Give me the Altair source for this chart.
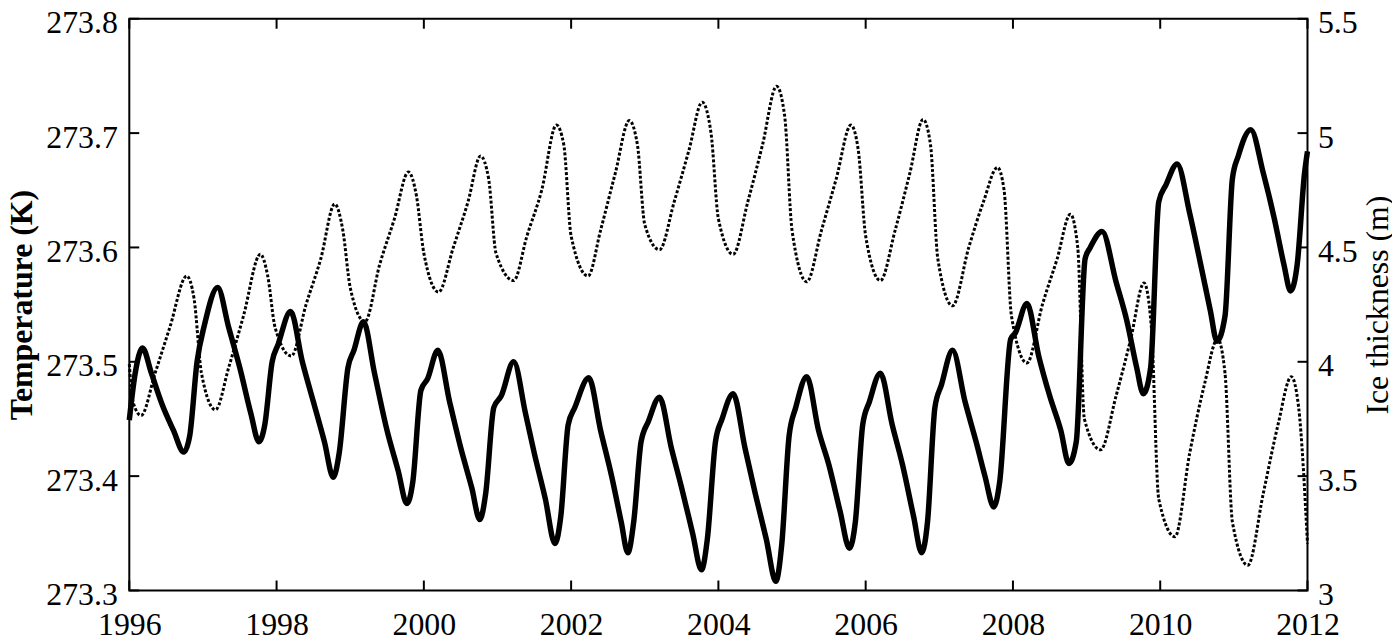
import altair as alt
import pandas as pd

# ---- Temperature (K), solid line, left axis ----
t_years = [
    1996.00, 1996.08, 1996.18, 1996.30, 1996.45, 1996.60, 1996.74, 1996.82, 1996.92, 1997.02,
    1997.20, 1997.35, 1997.50, 1997.65, 1997.76, 1997.84, 1997.94, 1998.02, 1998.19, 1998.35,
    1998.50, 1998.65, 1998.77, 1998.85, 1998.97, 1999.05, 1999.18, 1999.33, 1999.50, 1999.65,
    1999.77, 1999.85, 1999.96, 2000.05, 2000.19, 2000.35, 2000.50, 2000.65, 2000.76, 2000.84,
    2000.95, 2001.05, 2001.22, 2001.38, 2001.50, 2001.65, 2001.78, 2001.86, 2001.96, 2002.05,
    2002.24, 2002.40, 2002.55, 2002.68, 2002.77, 2002.85, 2002.95, 2003.05, 2003.20, 2003.36,
    2003.50, 2003.65, 2003.77, 2003.85, 2003.96, 2004.05, 2004.20, 2004.36, 2004.50, 2004.65,
    2004.78, 2004.86, 2004.96, 2005.05, 2005.20, 2005.36, 2005.50, 2005.65, 2005.78, 2005.86,
    2005.96, 2006.05, 2006.20, 2006.36, 2006.50, 2006.65, 2006.76, 2006.84, 2006.94, 2007.03,
    2007.18, 2007.35, 2007.50, 2007.62, 2007.74, 2007.82, 2007.97, 2008.03, 2008.19, 2008.35,
    2008.50, 2008.65, 2008.76, 2008.86, 2008.98, 2009.05, 2009.21, 2009.40, 2009.55, 2009.68,
    2009.77, 2009.87, 2009.98, 2010.08, 2010.23, 2010.40, 2010.55, 2010.68, 2010.77, 2010.88,
    2010.98, 2011.06, 2011.23, 2011.40, 2011.55, 2011.68, 2011.77, 2011.86, 2011.96, 2012.00,
]
t_vals = [
    273.449, 273.490, 273.512, 273.490, 273.462, 273.440, 273.421, 273.435, 273.500, 273.532,
    273.565, 273.530, 273.495, 273.455, 273.430, 273.445, 273.500, 273.515, 273.544, 273.500,
    273.465, 273.430, 273.399, 273.420, 273.495, 273.510, 273.535, 273.490, 273.440, 273.405,
    273.376, 273.395, 273.475, 273.485, 273.510, 273.465, 273.425, 273.390, 273.362, 273.385,
    273.460, 273.470, 273.500, 273.455, 273.420, 273.380, 273.341, 273.365, 273.445, 273.460,
    273.486, 273.440, 273.400, 273.360, 273.333, 273.360, 273.430, 273.448, 273.469, 273.425,
    273.390, 273.350, 273.318, 273.345, 273.430, 273.450, 273.472, 273.425, 273.385, 273.345,
    273.308, 273.340, 273.435, 273.460, 273.487, 273.440, 273.410, 273.370, 273.337, 273.360,
    273.445, 273.465, 273.490, 273.445, 273.410, 273.365, 273.333, 273.360, 273.460, 273.480,
    273.510, 273.465, 273.430, 273.400, 273.373, 273.395, 273.520, 273.525, 273.551, 273.505,
    273.470, 273.440, 273.411, 273.430, 273.590, 273.600, 273.614, 273.570, 273.535, 273.495,
    273.472, 273.495, 273.640, 273.655, 273.673, 273.630, 273.585, 273.545, 273.518, 273.540,
    273.660, 273.680, 273.703, 273.665, 273.625, 273.585, 273.562, 273.585, 273.665, 273.684,
]

# ---- Ice thickness (m), dotted line, right axis ----
i_years = [
    1996.00, 1996.05, 1996.16, 1996.35, 1996.55, 1996.78, 1996.88, 1996.98, 1997.17, 1997.35,
    1997.55, 1997.78, 1997.88, 1997.98, 1998.20, 1998.40, 1998.60, 1998.79, 1998.90, 1999.00,
    1999.20, 1999.40, 1999.60, 1999.79, 1999.90, 2000.00, 2000.20, 2000.40, 2000.60, 2000.77,
    2000.88, 2000.98, 2001.22, 2001.40, 2001.60, 2001.80, 2001.90, 2002.00, 2002.23, 2002.40,
    2002.60, 2002.79, 2002.90, 2003.00, 2003.20, 2003.40, 2003.60, 2003.78, 2003.90, 2004.00,
    2004.20, 2004.40, 2004.60, 2004.79, 2004.90, 2005.00, 2005.20, 2005.40, 2005.60, 2005.80,
    2005.90, 2006.00, 2006.20, 2006.40, 2006.60, 2006.78, 2006.88, 2006.98, 2007.18, 2007.40,
    2007.60, 2007.79, 2007.88, 2007.98, 2008.19, 2008.40, 2008.60, 2008.78, 2008.88, 2008.97,
    2009.19, 2009.40, 2009.60, 2009.78, 2009.88, 2009.98, 2010.20, 2010.40, 2010.60, 2010.78,
    2010.88, 2010.98, 2011.19, 2011.40, 2011.60, 2011.78, 2011.88, 2012.00,
]
i_vals = [
    3.990, 3.825, 3.765, 3.950, 4.150, 4.375, 4.275, 3.950, 3.790, 3.975,
    4.200, 4.470, 4.375, 4.150, 4.025, 4.250, 4.450, 4.690, 4.575, 4.325,
    4.175, 4.425, 4.625, 4.830, 4.725, 4.475, 4.305, 4.500, 4.700, 4.900,
    4.800, 4.475, 4.355, 4.550, 4.750, 5.035, 4.950, 4.550, 4.375, 4.575,
    4.825, 5.055, 4.950, 4.600, 4.490, 4.700, 4.925, 5.135, 5.000, 4.625,
    4.470, 4.700, 4.950, 5.205, 5.075, 4.575, 4.350, 4.575, 4.800, 5.035,
    4.925, 4.550, 4.355, 4.575, 4.825, 5.060, 4.950, 4.450, 4.245, 4.500,
    4.700, 4.850, 4.750, 4.200, 3.995, 4.250, 4.450, 4.645, 4.500, 3.750,
    3.615, 3.850, 4.100, 4.345, 4.150, 3.400, 3.235, 3.600, 3.900, 4.100,
    3.950, 3.300, 3.110, 3.425, 3.725, 3.935, 3.800, 3.205,
]

# ---- Axis ticks ----
x_ticks = [1996, 1998, 2000, 2002, 2004, 2006, 2008, 2010, 2012]
t_ticks = [273.3, 273.4, 273.5, 273.6, 273.7, 273.8]
i_ticks = [3, 3.5, 4, 4.5, 5, 5.5]

W, H = 1185, 575
TICK = 10
FONT = "Liberation Serif"
FS = 32

temp_df = pd.DataFrame({"year": t_years, "temp": t_vals})
ice_df = pd.DataFrame({"year": i_years, "ice": i_vals})
xt_df = pd.DataFrame({"year": x_ticks})
tt_df = pd.DataFrame({"temp": t_ticks})
it_df = pd.DataFrame({"ice": i_ticks})

x_scale = alt.Scale(domain=[1996, 2012], nice=False, zero=False)
t_scale = alt.Scale(domain=[273.3, 273.8], nice=False, zero=False)
i_scale = alt.Scale(domain=[3, 5.5], nice=False, zero=False)

x_enc = alt.X(
    "year:Q", scale=x_scale,
    axis=alt.Axis(orient="bottom", values=x_ticks, format="d", title=None,
                  domain=False, ticks=False, grid=False, labelFont=FONT,
                  labelFontSize=FS, labelColor="black", labelPadding=19,
                  labelBaseline="top", labelFlush=False),
)

temp_line = alt.Chart(temp_df).mark_line(
    color="black", strokeWidth=5.5, interpolate="monotone"
).encode(
    x=x_enc,
    y=alt.Y("temp:Q", scale=t_scale,
            axis=alt.Axis(orient="left", values=t_ticks, format=".1f",
                          title="Temperature (K)", domain=False, ticks=False,
                          grid=False, labelFont=FONT, labelFontSize=FS,
                          labelColor="black", labelPadding=12, labelOffset=4,
                          labelFlush=False, titleFont=FONT, titleFontSize=FS,
                          titleFontWeight="bold", titleColor="black",
                          titlePadding=7)),
)

left_ticks = alt.Chart(tt_df).mark_rule(color="black", strokeWidth=2).encode(
    y=alt.Y("temp:Q", scale=t_scale),
    x=alt.value(0), x2=alt.value(TICK),
)

top_ticks = alt.Chart(xt_df).mark_rule(color="black", strokeWidth=2).encode(
    x=alt.X("year:Q", scale=x_scale),
    y=alt.value(0), y2=alt.value(TICK),
)
bottom_ticks = alt.Chart(xt_df).mark_rule(color="black", strokeWidth=2).encode(
    x=alt.X("year:Q", scale=x_scale),
    y=alt.value(H - TICK), y2=alt.value(H),
)

ice_line = alt.Chart(ice_df).mark_line(
    color="black", strokeWidth=3, strokeDash=[3, 2], interpolate="monotone"
).encode(
    x=alt.X("year:Q", scale=x_scale),
    y=alt.Y("ice:Q", scale=i_scale,
            axis=alt.Axis(orient="right", values=i_ticks, format="~g",
                          title="Ice thickness (m)", domain=False, ticks=False,
                          grid=False, labelFont=FONT, labelFontSize=FS,
                          labelColor="black", labelPadding=10, labelOffset=4,
                          labelFlush=False, titleFont=FONT, titleFontSize=FS,
                          titleFontWeight="normal", titleColor="black",
                          titleAngle=270, titleBaseline="top",
                          titlePadding=5)),
)

right_ticks = alt.Chart(it_df).mark_rule(color="black", strokeWidth=2).encode(
    y=alt.Y("ice:Q", scale=i_scale),
    x=alt.value(W - TICK), x2=alt.value(W),
)

left_group = alt.layer(temp_line, left_ticks, top_ticks, bottom_ticks)
right_group = alt.layer(ice_line, right_ticks)

chart = alt.layer(left_group, right_group).resolve_scale(
    y="independent"
).properties(
    width=W, height=H,
    padding={"left": 122, "top": 9, "right": 85, "bottom": 50},
    autosize=alt.AutoSizeParams(type="none"),
    background="white",
).configure(
    font=FONT
).configure_axis(
    labelFont=FONT, titleFont=FONT
).configure_view(
    stroke="black", strokeWidth=2
)

chart.save("out.html", embed_options={"renderer": "svg", "actions": False})
